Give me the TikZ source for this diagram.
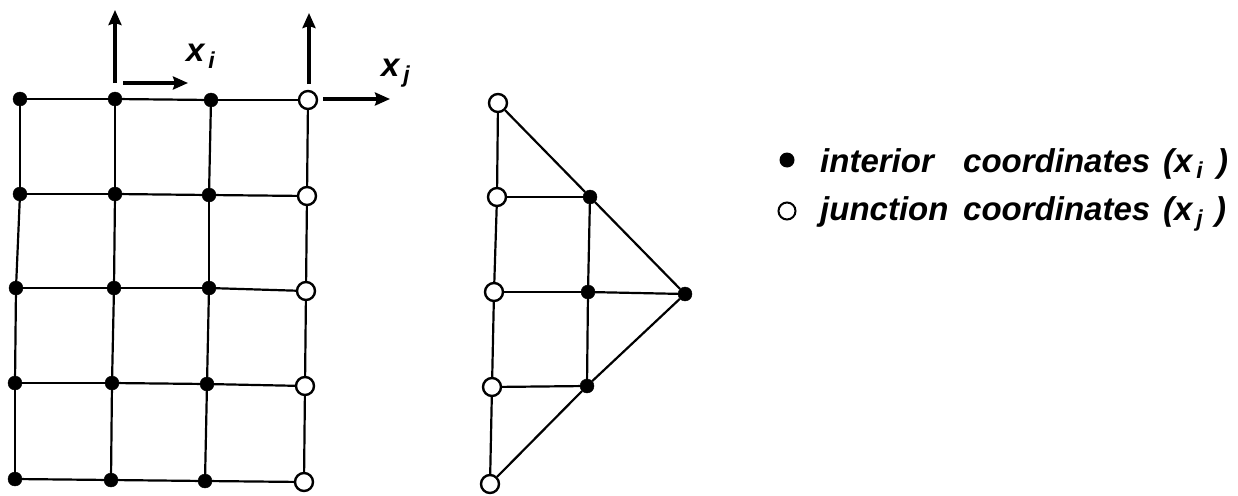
\documentclass[tikz,border=0pt]{standalone}
\usepackage{fontspec}
\setmainfont{Liberation Sans}
\usetikzlibrary{arrows.meta}
\tikzset{
  x=1pt,y=-1pt,
  fd/.style={circle,fill=black,draw=black,inner sep=0pt,minimum size=14pt},
  od/.style={circle,fill=white,draw=black,line width=2.4pt,inner sep=0pt,minimum size=18pt},
  edge/.style={line width=2.2pt,black},
  axis/.style={line width=3.2pt,black,-{Stealth[length=15pt,width=13pt,inset=2pt]}},
  lab/.style={inner sep=0pt,anchor=base west,font=\bfseries\itshape\fontsize{33}{36}\selectfont},
  leg/.style={inner sep=0pt,anchor=base west,font=\bfseries\itshape\fontsize{33}{38}\selectfont}
}
\newcommand{\subtxt}[1]{\raisebox{-6pt}{\fontsize{23}{24}\selectfont #1}}
\begin{document}
\begin{tikzpicture}
\useasboundingbox (0,0) rectangle (1238,495);
\foreach \n/\x/\y in {a1/20/99,b1/115/99,c1/211/100,a2/20/194,b2/115/194,c2/209/195,a3/16/288,b3/114/288,c3/209/288,a4/15/383,b4/112/383,c4/207/384,a5/15/479,b5/111/480,c5/205/481,t2/590/197,t3/588/292,t4/587/386,tip/685/294}
  \node[fd] (\n) at (\x,\y) {};
\foreach \n/\x/\y in {d1/308/100,d2/307/196,d3/306/291,d4/305/386,d5/304/482,s1/498/103,s2/497/197,s3/494/292,s4/492/387,s5/490/484}
  \node[od] (\n) at (\x,\y) {};
\foreach \u/\v in {a1/b1,b1/c1,c1/d1,a2/b2,b2/c2,c2/d2,a3/b3,b3/c3,c3/d3,a4/b4,b4/c4,c4/d4,a5/b5,b5/c5,c5/d5,
 a1/a2,a2/a3,a3/a4,a4/a5,b1/b2,b2/b3,b3/b4,b4/b5,c1/c2,c2/c3,c3/c4,c4/c5,d1/d2,d2/d3,d3/d4,d4/d5,
 s1/s2,s2/s3,s3/s4,s4/s5,s1/t2,t2/tip,tip/t4,t4/s5,s2/t2,s3/t3,t3/tip,s4/t4,t2/t3,t3/t4}
  \draw[edge] (\u) -- (\v);
% axes
\coordinate (v1a) at (115,83); \coordinate (v1b) at (115,10);
\coordinate (h1a) at (123,83); \coordinate (h1b) at (188,83);
\coordinate (v2a) at (309,84); \coordinate (v2b) at (309,13);
\coordinate (h2a) at (323,99); \coordinate (h2b) at (390,99);
\draw[axis] (v1a) -- (v1b);
\draw[axis] (h1a) -- (h1b);
\draw[axis] (v2a) -- (v2b);
\draw[axis] (h2a) -- (h2b);
\node[lab] (xi) at (186,62) {x\subtxt{\,i}};
\node[lab] (xj) at (381,76) {x\subtxt{\,j}};
% legend
\node[circle,fill=black,inner sep=0pt,minimum size=15pt] (lf) at (787,160) {};
\node[circle,draw=black,fill=white,line width=2pt,inner sep=0pt,minimum size=17pt] (lo) at (787,211) {};
\node[leg] (l1) at (820,172) {interior};
\node[leg] (l1b) at (963,172) {coordinates};
\node[leg] (l1c) at (1163,172) {(x\subtxt{\,i}};
\node[leg] (l1d) at (1217,172) {)};
\node[leg] (l2) at (820,220) {junction};
\node[leg] (l2b) at (963,220) {coordinates};
\node[leg] (l2c) at (1163,220) {(x\subtxt{\,j}};
\node[leg] (l2d) at (1215,220) {)};
\end{tikzpicture}
\end{document}
